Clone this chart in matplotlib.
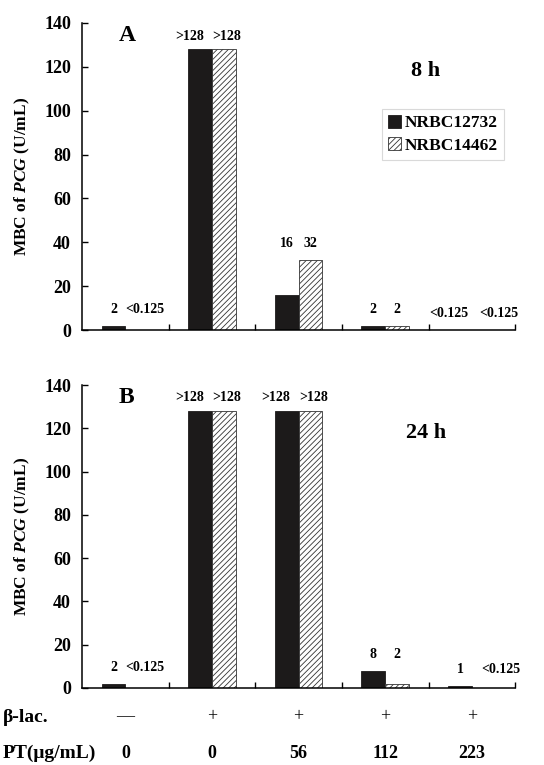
import numpy as np
import matplotlib
matplotlib.use('Agg')
import matplotlib.pyplot as plt

plt.rcParams['font.family'] = ['Liberation Serif', 'DejaVu Serif']
plt.rcParams['font.weight'] = 'bold'
plt.rcParams['mathtext.fontset'] = 'custom'
plt.rcParams['mathtext.it'] = 'Liberation Serif:italic:bold'
plt.rcParams['mathtext.rm'] = 'Liberation Serif:bold'
plt.rcParams['hatch.linewidth'] = 0.6

# Data
strains = ['NRBC12732', 'NRBC14462']
beta_lac = ['\u2014', '+', '+', '+', '+']
pt_dose = ['0', '0', '56', '112', '223']

a_black = [2, 128, 16, 2, 0.125]
a_hatch = [0.125, 128, 32, 2, 0.125]
a_black_lbl = ['2', '>128', '16', '2', '<0.125']
a_hatch_lbl = ['<0.125', '>128', '32', '2', '<0.125']

b_black = [2, 128, 128, 8, 1]
b_hatch = [0.125, 128, 128, 2, 0.125]
b_black_lbl = ['2', '>128', '>128', '8', '1']
b_hatch_lbl = ['<0.125', '>128', '>128', '2', '<0.125']

fig = plt.figure(figsize=(5.44, 7.65), dpi=100)
axA = fig.add_axes([0.151, 0.5686, 0.796, 0.4014])
axB = fig.add_axes([0.151, 0.1007, 0.796, 0.396])

x = np.arange(5) + 0.5
w = 0.275

def draw(ax, blk, hat, blbl, hlbl, letter, time, legend=False):
    ax.bar(x - w/2, blk, w, color='#1c1a1a', edgecolor='#1c1a1a', linewidth=0.6, label=strains[0])
    ax.bar(x + w/2, hat, w, color='white', edgecolor='#333333', hatch='//////', linewidth=0.6, label=strains[1])
    for i in range(5):
        top = max(blk[i], hat[i])
        y = 131 if top >= 128 else top + 4.5
        dxb, dxh = 0, 0
        if blbl[i].startswith('>'):
            dxb, dxh = -0.125, 0.035
        if hlbl[i].startswith('<'):
            dxh = 0.09
            if i == 4:
                dxh = 0.2
                if blbl[i].startswith('<'):
                    dxb, dxh = -0.13, 0.17
        ax.text(x[i] - w/2 + dxb, y, blbl[i], ha='center', va='bottom', fontsize=10, fontweight='bold')
        ax.text(x[i] + w/2 + dxh, y, hlbl[i], ha='center', va='bottom', fontsize=10, fontweight='bold')
    ax.set_xlim(0, 5)
    ax.set_ylim(0, 140)
    ax.set_yticks(range(0, 141, 20))
    ax.set_xticks(range(1, 6))
    ax.set_xticklabels([])
    ax.tick_params(axis='both', direction='in', length=4, width=1, labelsize=13, pad=8)
    for s in ['top', 'right']:
        ax.spines[s].set_visible(False)
    for s in ['left', 'bottom']:
        ax.spines[s].set_linewidth(1.1)
    ax.set_ylabel('MBC of $\\it{PCG}$ (U/mL)', fontsize=12.5, fontweight='bold')
    ax.yaxis.set_label_coords(-0.115, 0.5)
    ax.text(0.42, 139, letter, fontsize=17, fontweight='bold', va='top', ha='left')
    ax.text(3.97, 118, time, fontsize=16, fontweight='bold', ha='center', va='center')
    if legend:
        lg = ax.legend(loc='upper right', bbox_to_anchor=(0.975, 0.72), fontsize=12.5,
                       handlelength=0.75, handleheight=0.75, handletextpad=0.25,
                       labelspacing=0.35, frameon=True, fancybox=False,
                       edgecolor='#d0d0d0', borderpad=0.35, borderaxespad=0.0)
        lg.get_frame().set_linewidth(0.8)

draw(axA, a_black, a_hatch, a_black_lbl, a_hatch_lbl, 'A', '8 h', legend=True)
draw(axB, b_black, b_hatch, b_black_lbl, b_hatch_lbl, 'B', '24 h')

# rows below the bottom chart
for i in range(5):
    axB.text(x[i], -0.095, beta_lac[i], transform=axB.get_xaxis_transform(),
             ha='center', va='center', fontsize=13, fontweight='normal')
    axB.text(x[i], -0.215, pt_dose[i], transform=axB.get_xaxis_transform(),
             ha='center', va='center', fontsize=13, fontweight='bold')
fig.text(0.005, 1 - 717/765, '\u03b2-lac.', ha='left', va='center', fontsize=14, fontweight='bold')
fig.text(0.005, 1 - 753/765, 'PT(\u03bcg/mL)', ha='left', va='center', fontsize=14, fontweight='bold')

fig.savefig('out.png', dpi=100)
